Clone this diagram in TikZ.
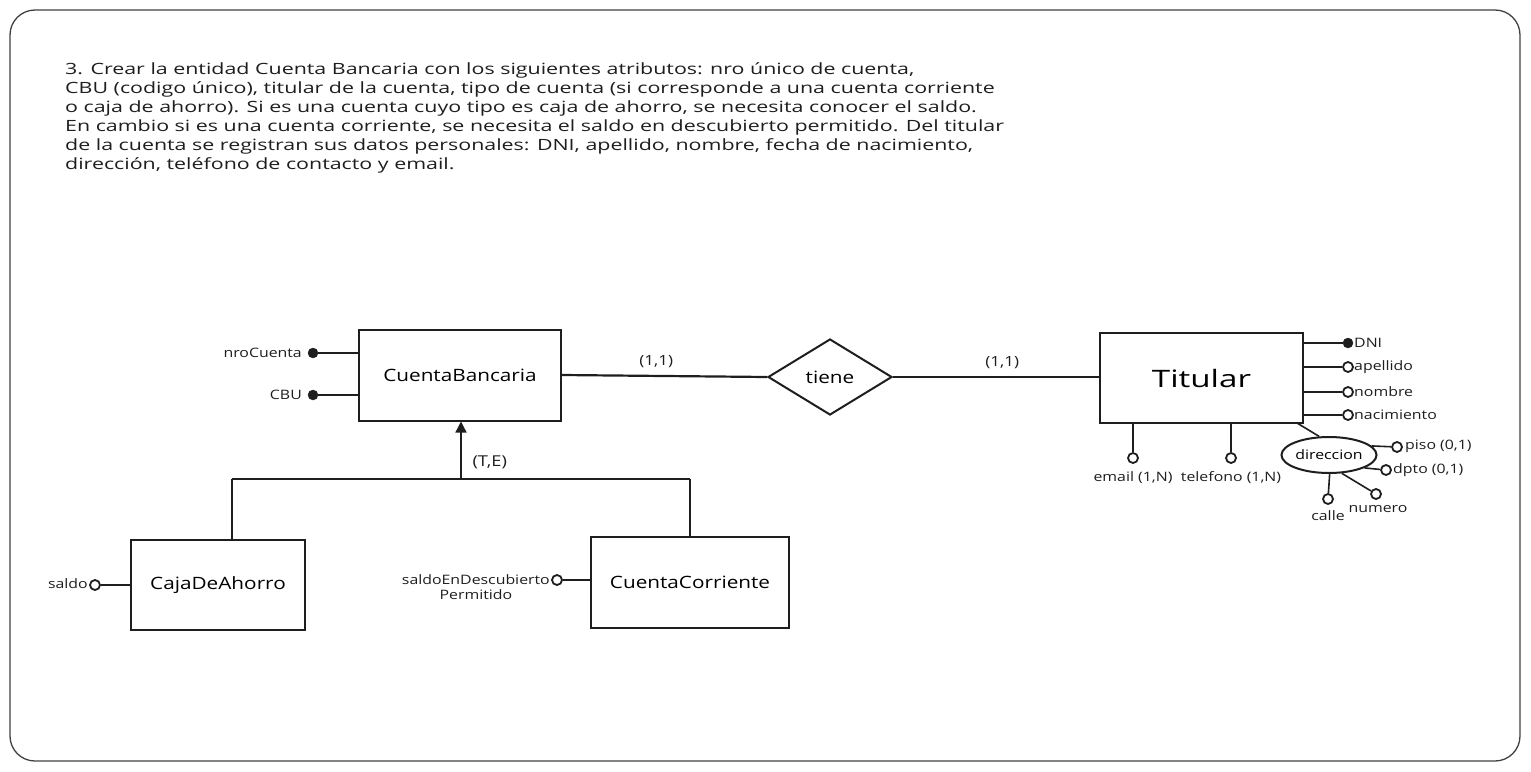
\documentclass[tikz,border=0pt]{standalone}
\usepackage{fontspec}
\setmainfont{Open Sans}[FakeStretch=1.22]
\newfontfamily\parafont{Open Sans}[FakeStretch=1.38]
\usetikzlibrary{shapes.geometric,arrows.meta}
\definecolor{ink}{HTML}{1E1E1E}
\tikzset{
  entity/.style={draw=ink,line width=2pt,minimum width=#1,minimum height=90pt,inner sep=0pt,font=\fontsize{17}{20}\selectfont},
  conn/.style={draw=ink,line width=1.6pt},
  keydot/.style={circle,fill=ink,draw=ink,minimum size=10pt,inner sep=0pt},
  opdot/.style={circle,fill=white,draw=ink,line width=1.8pt,minimum size=10pt,inner sep=0pt},
  attr/.style={font=\fontsize{13}{15}\selectfont,inner sep=1pt,text=ink},
  card/.style={font=\fontsize{14}{16}\selectfont,text=ink},
}
\begin{document}
\begin{tikzpicture}[x=1pt,y=-1pt]
\useasboundingbox (0,0) rectangle (1531,771);
\draw[draw=ink!85,line width=1.3pt,rounded corners=25pt] (10,10) rectangle (1520,761);
% paragraph
\node[anchor=north west,align=left,inner sep=0pt,text=ink,font=\parafont\fontsize{15.5}{19}\selectfont] (para) at (65,62)
{3. Crear la entidad Cuenta Bancaria con los siguientes atributos: nro único de cuenta,\\
CBU (codigo único), titular de la cuenta, tipo de cuenta (si corresponde a una cuenta corriente\\
o caja de ahorro). Si es una cuenta cuyo tipo es caja de ahorro, se necesita conocer el saldo.\\
En cambio si es una cuenta corriente, se necesita el saldo en descubierto permitido. Del titular\\
de la cuenta se registran sus datos personales: DNI, apellido, nombre, fecha de nacimiento,\\
dirección, teléfono de contacto y email.};
% entities
\node[entity=202pt,minimum height=91pt] (cb) at (460,375) {CuentaBancaria};
\node[entity=203pt,minimum height=90pt,font=\parafont\fontsize{24}{28}\selectfont] (tit) at (1201.5,378) {Titular};
\node[entity=174pt] (caja) at (218,585) {CajaDeAhorro};
\node[entity=198pt,minimum height=91pt] (cc) at (690,582.5) {CuentaCorriente};
\node[diamond,draw=ink,line width=2pt,minimum width=124pt,minimum height=76pt,inner sep=0pt,aspect=1.6,font=\fontsize{17}{20}\selectfont] (tiene) at (830,377) {tiene};
% relationship
\draw[conn,line width=2.2pt] (cb.east) -- (tiene.west) node[card,pos=0.46,above=4pt] {(1,1)};
\draw[conn] (tiene.east) -- (tit.west |- tiene.east) node[card,pos=0.53,above=4pt] {(1,1)};
% CuentaBancaria attributes
\node[keydot] (nro) at (313,353) {};
\node[attr,anchor=east] (nrol) at (303,353) {nroCuenta};
\draw[conn] (nro) -- (cb.west |- nro);
\node[keydot] (cbu) at (313,395) {};
\node[attr,anchor=east] (cbul) at (303,395) {CBU};
\draw[conn] (cbu) -- (cb.west |- cbu);
% hierarchy
\coordinate (hj) at (461,479);
\coordinate (hl) at (232,479);
\coordinate (hr) at (690,479);
\draw[conn,line width=1.3pt] (hl) -- (hr);
\draw[conn,line width=1.3pt] (hl) -- (hl |- caja.north);
\draw[conn,line width=1.3pt] (hr) -- (cc.north);
\draw[conn,line width=1.3pt,-{Triangle[length=11pt,width=11pt]}] (hj) -- (hj |- cb.south);
\node[card,anchor=west,font=\fontsize{15}{17}\selectfont] (te) at (469,462) {(T,E)};
% caja attrs
\node[opdot] (saldo) at (95,585) {};
\node[attr,anchor=east] (saldol) at (89,584) {saldo};
\draw[conn] (saldo) -- (caja.west |- saldo);
% cuenta corriente attr
\node[opdot] (sdp) at (557,580) {};
\node[attr,anchor=east,align=center] (sdpl) at (551,587) {saldoEnDescubierto\\Permitido};
\draw[conn] (sdp) -- (cc.west |- sdp);
% Titular attributes
\foreach \n/\y/\t/\s in {dni/343/DNI/keydot, ape/367/apellido/opdot, nom/392/nombre/opdot, nac/415/nacimiento/opdot}{
  \node[\s] (\n) at (1348,\y) {};
  \node[attr,anchor=west] (\n l) at (1353,\y) {\t};
  \draw[conn] (\n) -- (tit.east |- \n);
}
\node[opdot] (email) at (1133,458) {};
\node[attr] (emaill) at (1133,478) {email (1,N)};
\draw[conn] (email) -- (email |- tit.south);
\node[opdot] (tel) at (1231,458) {};
\node[attr] (tell) at (1231,478) {telefono (1,N)};
\draw[conn] (tel) -- (tel |- tit.south);
% direccion
\node[ellipse,draw=ink,line width=2pt,minimum width=82pt,minimum height=36pt,inner sep=0pt,font=\fontsize{13}{15}\selectfont] (dir) at (1329,455) {direccion};
\coordinate (tc) at (1297,423);
\draw[conn] (tc) -- (dir.118);
\node[opdot] (piso) at (1397,447) {};
\node[attr,anchor=west] (pisol) at (1404,446) {piso (0,1)};
\draw[conn] (dir.12) -- (piso);
\node[opdot] (dpto) at (1386,470) {};
\node[attr,anchor=west] (dptol) at (1392,470) {dpto (0,1)};
\draw[conn] (dir.-20) -- (dpto);
\node[opdot] (num) at (1376,494) {};
\node[attr] (numl) at (1378,509) {numero};
\draw[conn] (dir.-55) -- (num);
\node[opdot] (calle) at (1328,499) {};
\node[attr] (callel) at (1328,516) {calle};
\draw[conn] (dir.-88) -- (calle);
\end{tikzpicture}
\end{document}
